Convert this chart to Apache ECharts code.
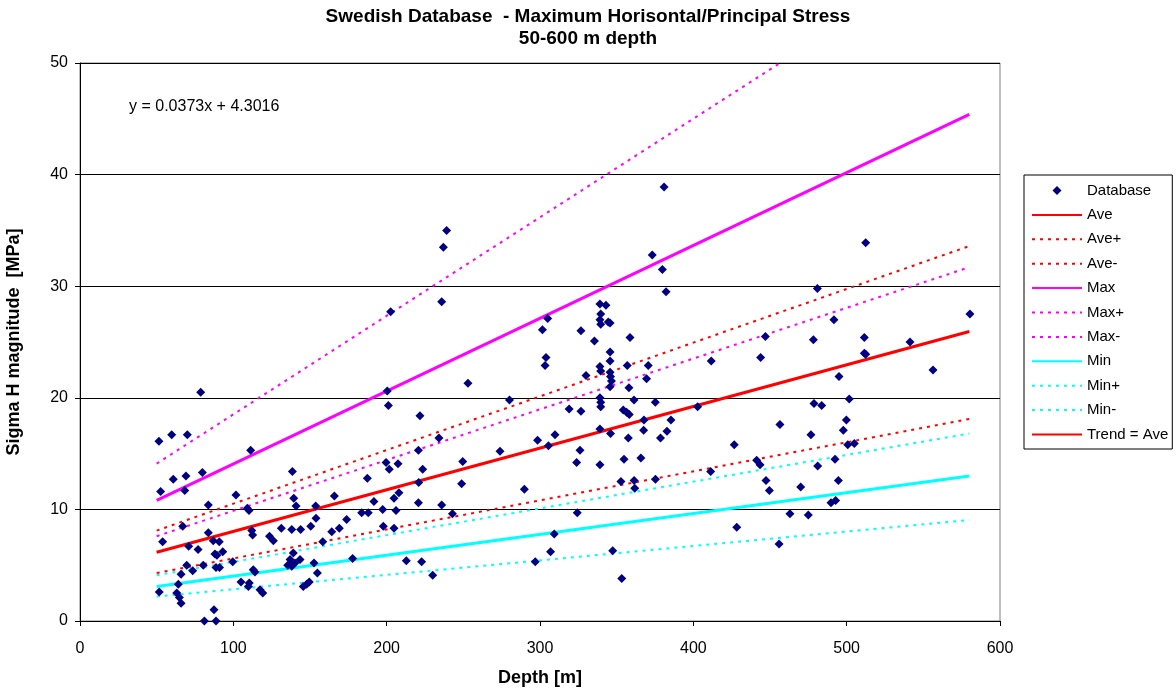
<!DOCTYPE html>
<html>
<head>
<meta charset="utf-8">
<script src="https://cdn.jsdelivr.net/npm/echarts@6/dist/echarts.min.js"></script>
<style>
  html, body { margin: 0; padding: 0; background: #ffffff; }
  #chart { width: 1176px; height: 693px; }
</style>
</head>
<body>
<div id="chart"></div>
<script>
// Measured stress magnitudes: depth [m] and sigma H [MPa]
const dbDepth = [
  51.5, 52.6, 53.9, 51.7, 59.8, 70.0, 60.8, 69.1, 79.8, 78.7, 68.3, 111.3, 101.7, 83.7, 109.1, 110.2,
  67.0, 83.7, 112.0, 112.6, 70.9, 86.9, 90.8, 77.0, 93.1, 88.0, 89.3, 99.6, 69.6, 65.9, 80.4, 73.5,
  88.7, 91.0, 64.1, 63.1, 64.8, 65.9, 87.4, 81.1, 88.7, 105.0, 110.4, 109.8, 113.0, 114.1, 117.4, 119.2,
  138.5, 139.4, 140.9, 153.7, 153.9, 131.3, 138.1, 143.9, 150.5, 158.3, 123.6, 126.1,
  139.1, 137.0, 135.5, 140.2, 143.5, 138.1, 152.6, 154.8, 145.6, 147.8, 149.5, 165.9, 164.2,
  169.1, 173.9, 177.8, 183.7, 188.0, 187.4, 191.7, 197.4, 197.8, 199.6, 201.7, 200.4, 201.1, 202.6,
  204.8, 204.8, 206.1, 207.4, 208.0, 212.8, 220.7, 220.9, 220.7, 221.7, 222.8, 223.5, 230.0, 234.1,
  235.9, 237.0, 239.1, 235.9, 242.9, 248.9, 249.6, 253.0, 273.9, 280.1,
  289.8, 296.9, 298.4, 301.6, 305.0, 303.9, 303.3, 305.5, 306.9, 309.3, 309.8, 319.0, 323.9, 324.3,
  326.1, 326.7, 326.7, 330.0, 335.5, 339.1, 343.0, 339.6, 339.1, 339.6, 344.5, 345.7, 339.1, 339.6,
  339.1, 339.6, 339.6, 339.1, 339.1,
  345.7, 345.7, 345.7, 346.0, 346.6, 345.7, 346.0, 347.4, 353.3, 352.8, 354.3, 356.5, 358.2, 354.8,
  356.9, 357.6, 358.0, 358.7, 361.3, 361.4, 361.8, 365.8, 367.8, 367.6, 369.5, 370.6, 373.2, 375.2,
  375.3, 378.6, 380.9, 379.8, 382.2, 382.8, 385.4, 402.8, 411.7, 411.3,
  426.7, 428.3, 441.3, 443.5, 443.9, 447.0, 447.4, 449.6, 455.9, 456.5, 463.0, 470.0, 475.0, 476.7,
  478.3, 478.7, 480.9, 481.1, 483.7, 489.8, 492.8, 491.7, 492.4, 494.6, 495.0, 497.8, 499.8, 500.7,
  501.7, 505.0, 511.5, 512.4, 511.5, 512.4, 541.3, 556.3, 580.4
];
const dbSigma = [
  16.1, 11.6, 7.1, 2.6, 16.7, 16.7, 12.7, 13.0, 13.3, 20.5, 11.7, 15.3, 11.3, 10.4, 10.1, 9.9,
  8.5, 7.9, 8.1, 7.7, 6.7, 7.2, 7.1, 6.4, 6.2, 6.0, 5.9, 5.3, 5.0, 4.2, 5.0, 4.5,
  4.8, 4.8, 3.3, 2.5, 2.1, 1.6, 1.0, 0.0, 0.0, 3.5, 3.4, 3.1, 4.6, 4.4, 2.8, 2.5,
  13.4, 11.0, 10.3, 10.3, 9.2, 8.3, 8.2, 8.2, 8.5, 7.1, 7.6, 7.2,
  6.1, 5.5, 5.0, 5.2, 5.5, 4.9, 5.2, 4.3, 3.1, 3.3, 3.5, 11.2, 8.0,
  8.3, 9.1, 5.6, 9.7, 9.7, 12.8, 10.7, 10.0, 8.5, 14.2, 13.6, 20.6, 19.3, 27.7,
  11.0, 8.3, 9.9, 14.1, 11.5, 5.4, 15.3, 12.4, 10.6, 18.4, 5.3, 13.6, 4.1, 16.4,
  28.6, 33.5, 35.0, 10.4, 9.6, 12.3, 14.3, 21.3, 15.2, 19.8,
  11.8, 5.3, 16.2, 26.1, 27.1, 23.6, 22.9, 15.7, 6.2, 7.8, 16.7, 19.0, 14.2, 9.7,
  15.3, 26.0, 18.8, 22.0, 25.1, 28.4, 28.3, 27.5, 27.0, 26.6, 26.8, 26.7, 22.8, 22.4,
  20.0, 19.6, 19.2, 17.2, 14.0,
  24.1, 23.3, 22.3, 21.9, 21.5, 21.0, 16.8, 6.3, 3.8, 12.5, 18.9, 18.7, 18.5, 14.5,
  22.9, 16.4, 20.9, 25.4, 19.8, 12.6, 11.9, 14.6, 18.0, 17.1, 21.7, 22.9, 32.8, 19.6,
  12.7, 16.4, 38.9, 31.5, 29.5, 17.0, 18.0, 19.2, 23.3, 13.4,
  15.8, 8.4, 14.4, 14.0, 23.6, 25.5, 12.6, 11.7, 6.9, 17.6, 9.6, 12.0, 9.5, 16.7,
  25.2, 19.5, 29.8, 13.9, 19.3, 10.6, 10.8, 27.0, 14.5, 12.6, 21.9, 17.1, 18.0, 15.8,
  19.9, 15.9, 24.0, 23.9, 25.4, 33.9, 25.0, 22.5, 27.5
];

// Fitted trend stated on the chart: y = a*x + b
const trendSlope = 0.0373;
const trendIntercept = 4.3016;

// Depth range covered by the envelope lines
const bandDepth = [50, 580];
// Envelope line values at the two ends of the depth range [MPa]
const aveUpper = [8.1, 33.6];
const aveLower = [4.3, 18.1];
const maxLine = [10.8, 45.4];
const maxUpper = [14.1, 60.9];
const maxLower = [7.6, 31.7];
const minLine = [3.1, 13.0];
const minUpper = [4.1, 16.8];
const minLower = [2.2, 9.05];

// Axis ranges
const xTicks = { min: 0, max: 600, step: 100 };
const yTicks = { min: 0, max: 50, step: 10 };

const trendLine = bandDepth.map(d => trendSlope * d + trendIntercept);
const pairs = (xs, ys) => xs.map((x, i) => [x, ys[i]]);
const dbPoints = pairs(dbDepth, dbSigma);

const FONT = '"Liberation Sans", Arial, Helvetica, sans-serif';
const RED = '#ff0000', MAGENTA = '#ff00ff', CYAN = '#00ffff';
const DOT = [3, 5];

function lineSeries(name, values, color, width, dashed, z) {
  return {
    name: name,
    type: 'line',
    data: pairs(bandDepth, values),
    symbol: 'none',
    clip: true,
    silent: true,
    z: z,
    lineStyle: { color: color, width: width, type: dashed ? DOT : 'solid', cap: 'butt' },
    itemStyle: { color: color },
    emphasis: { disabled: true }
  };
}

// Legend entries: a small diamond for the points, bare line samples for the lines
const lineNames = ['Ave', 'Ave+', 'Ave-', 'Max', 'Max+', 'Max-', 'Min', 'Min+', 'Min-', 'Trend = Ave'];
const legendData = [{ name: 'Database', icon: 'path://M0,0M50,10M20.5,5L25,0.4L29.5,5L25,9.6Z' }]
  .concat(lineNames.map(n => ({ name: n, itemStyle: { opacity: 0 } })));

const chart = echarts.init(document.getElementById('chart'), null, { renderer: 'canvas' });

chart.setOption({
  animation: false,
  backgroundColor: '#ffffff',
  textStyle: { fontFamily: FONT },
  title: {
    text: 'Swedish Database  - Maximum Horisontal/Principal Stress\n50-600 m depth',
    left: 'center',
    top: 6,
    padding: 0,
    textStyle: { fontFamily: FONT, fontSize: 19, fontWeight: 'bold', color: '#000', lineHeight: 22 }
  },
  graphic: [{
    type: 'text',
    left: 129,
    top: 99,
    style: {
      text: 'y = ' + trendSlope.toFixed(4) + 'x + ' + trendIntercept.toFixed(4),
      font: '16px ' + FONT,
      fill: '#000'
    }
  }],
  legend: {
    orient: 'vertical',
    left: 1024,
    top: 175,
    padding: [8, 4, 7, 7],
    itemWidth: 50,
    itemHeight: 10,
    itemGap: 9.4,
    borderColor: '#000',
    borderWidth: 1,
    borderRadius: 0,
    backgroundColor: '#fff',
    selectedMode: false,
    textStyle: { fontFamily: FONT, fontSize: 15, color: '#000' },
    data: legendData
  },
  grid: {
    left: 80,
    right: 176,
    top: 63,
    bottom: 72,
    containLabel: false,
    outerBoundsMode: 'none',
    show: true,
    borderColor: '#808080',
    borderWidth: 1,
    backgroundColor: '#ffffff'
  },
  xAxis: {
    type: 'value',
    min: xTicks.min,
    max: xTicks.max,
    interval: xTicks.step,
    name: 'Depth [m]',
    nameLocation: 'middle',
    nameGap: 48,
    nameTextStyle: { fontFamily: FONT, fontSize: 18, fontWeight: 'bold', color: '#000' },
    axisLine: { show: true, lineStyle: { color: '#000', width: 1 } },
    axisTick: { show: true, inside: false, length: 5, lineStyle: { color: '#000' } },
    axisLabel: { fontFamily: FONT, fontSize: 16, color: '#000', margin: 20 },
    splitLine: { show: false }
  },
  yAxis: {
    type: 'value',
    min: yTicks.min,
    max: yTicks.max,
    interval: yTicks.step,
    name: 'Sigma H magnitude  [MPa]',
    nameLocation: 'middle',
    nameGap: 57,
    nameTextStyle: { fontFamily: FONT, fontSize: 18, fontWeight: 'bold', color: '#000' },
    axisLine: { show: true, lineStyle: { color: '#000', width: 1 } },
    axisTick: { show: true, inside: false, length: 5, lineStyle: { color: '#000' } },
    axisLabel: { fontFamily: FONT, fontSize: 16, color: '#000', margin: 12 },
    splitLine: { show: true, lineStyle: { color: '#000', width: 1 } }
  },
  series: [
    {
      name: 'Database',
      type: 'scatter',
      data: dbPoints,
      symbol: 'diamond',
      symbolSize: 9,
      z: 10,
      silent: true,
      itemStyle: { color: '#000080', opacity: 1 },
      emphasis: { disabled: true }
    },
    lineSeries('Ave', trendLine, RED, 1, false, 3),
    lineSeries('Ave+', aveUpper, RED, 2, true, 3),
    lineSeries('Ave-', aveLower, RED, 2, true, 3),
    lineSeries('Max', maxLine, MAGENTA, 3, false, 4),
    lineSeries('Max+', maxUpper, MAGENTA, 2, true, 3),
    lineSeries('Max-', maxLower, MAGENTA, 2, true, 3),
    lineSeries('Min', minLine, CYAN, 3, false, 4),
    lineSeries('Min+', minUpper, CYAN, 2, true, 3),
    lineSeries('Min-', minLower, CYAN, 2, true, 3),
    lineSeries('Trend = Ave', trendLine, RED, 3, false, 5)
  ]
});
</script>
</body>
</html>
